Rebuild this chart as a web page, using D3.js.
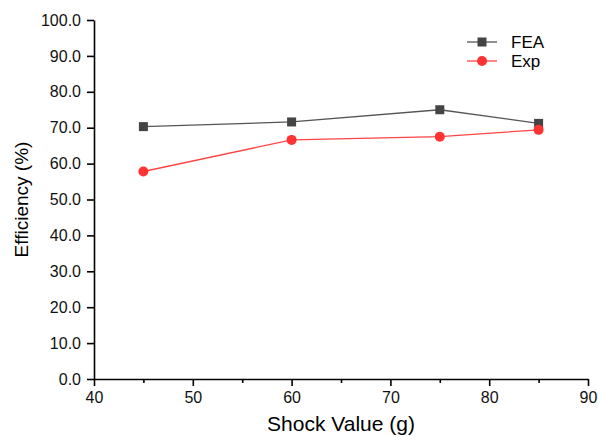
<!DOCTYPE html>
<html>
  <head>
    <title>Efficiency vs Shock Value</title>
    <script src="https://d3js.org/d3.v7.min.js" charset="utf-8"></script>
    <style>
    body {
        margin: 0;
        background: white;
        font-family: "Liberation Sans", Arial, sans-serif;
    }
    .axis text {
        font-family: "Liberation Sans", Arial, sans-serif;
        font-size: 16px;
        fill: #111;
    }
    .axis path, .axis line {
        stroke: #000;
        stroke-width: 1.6px;
    }
    </style>
  </head>

  <body>
    <script>
var shockValues = [45, 60, 75, 85];
var feaValues = [70.3, 71.6, 75.0, 71.2];
var expValues = [57.8, 66.6, 67.5, 69.4];
var seriesNames = ["FEA", "Exp"];
var xTicks = [40, 50, 60, 70, 80, 90];
var xMinorTicks = [45, 55, 65, 75, 85];
var yTicks = [0, 10, 20, 30, 40, 50, 60, 70, 80, 90, 100];

var width = 598;
var height = 437;
var margin = {top: 20, right: 10, bottom: 58, left: 94};

var svg = d3.select("body")
  .append("svg")
  .attr("width", width)
  .attr("height", height);

var x = d3.scaleLinear().domain([40, 90]).range([margin.left, 588]);
var y = d3.scaleLinear().domain([0, 100]).range([height - margin.bottom, margin.top]);

// minor x ticks
svg.append("g")
  .attr("class", "axis")
  .attr("transform", "translate(0," + y(0) + ")")
  .call(d3.axisBottom(x).tickValues(xMinorTicks).tickSize(4).tickFormat(""))
  .select(".domain").remove();

svg.append("g")
  .attr("class", "axis")
  .attr("transform", "translate(0," + y(0) + ")")
  .call(d3.axisBottom(x).tickValues(xTicks).tickSize(7).tickSizeOuter(0).tickPadding(6).tickFormat(d3.format("d")));

svg.append("g")
  .attr("class", "axis")
  .attr("transform", "translate(" + x(40) + ",0)")
  .call(d3.axisLeft(y).tickValues(yTicks).tickSize(7).tickSizeOuter(0).tickPadding(6).tickFormat(d3.format(".1f")));

svg.append("text")
  .attr("x", 341)
  .attr("y", 431)
  .attr("text-anchor", "middle")
  .style("font-size", "21px")
  .text("Shock Value (g)");

svg.append("text")
  .attr("transform", "translate(28," + y(50) + ") rotate(-90)")
  .attr("text-anchor", "middle")
  .style("font-size", "19px")
  .text("Efficiency (%)");

var line = d3.line()
  .x(function(d) { return x(d[0]); })
  .y(function(d) { return y(d[1]); });

var fea = d3.zip(shockValues, feaValues);
var exp = d3.zip(shockValues, expValues);

svg.append("path")
  .datum(fea)
  .attr("fill", "none")
  .attr("stroke", "#555")
  .attr("stroke-width", 1.3)
  .attr("d", line);

svg.append("path")
  .datum(exp)
  .attr("fill", "none")
  .attr("stroke", "#f44")
  .attr("stroke-width", 1.3)
  .attr("d", line);

svg.selectAll(".sq")
  .data(fea)
  .enter()
  .append("rect")
  .attr("x", function(d) { return x(d[0]) - 4.5; })
  .attr("y", function(d) { return y(d[1]) - 4.5; })
  .attr("width", 9)
  .attr("height", 9)
  .attr("fill", "#444");

svg.selectAll(".dot")
  .data(exp)
  .enter()
  .append("circle")
  .attr("cx", function(d) { return x(d[0]); })
  .attr("cy", function(d) { return y(d[1]); })
  .attr("r", 5)
  .attr("fill", "#f33");

// legend
var legend = svg.append("g");
var lx = 467, ly = 42;
legend.append("line").attr("x1", lx).attr("x2", lx + 30).attr("y1", ly).attr("y2", ly)
  .attr("stroke", "#555").attr("stroke-width", 1.3);
legend.append("rect").attr("x", lx + 15 - 4.5).attr("y", ly - 4.5).attr("width", 9).attr("height", 9).attr("fill", "#444");
legend.append("text").attr("x", lx + 44).attr("y", ly + 6).style("font-size", "17px").text(seriesNames[0]);

legend.append("line").attr("x1", lx).attr("x2", lx + 30).attr("y1", ly + 19).attr("y2", ly + 19)
  .attr("stroke", "#f44").attr("stroke-width", 1.3);
legend.append("circle").attr("cx", lx + 15).attr("cy", ly + 19).attr("r", 5).attr("fill", "#f33");
legend.append("text").attr("x", lx + 44).attr("y", ly + 25).style("font-size", "17px").text(seriesNames[1]);
    </script>
  </body>
</html>
